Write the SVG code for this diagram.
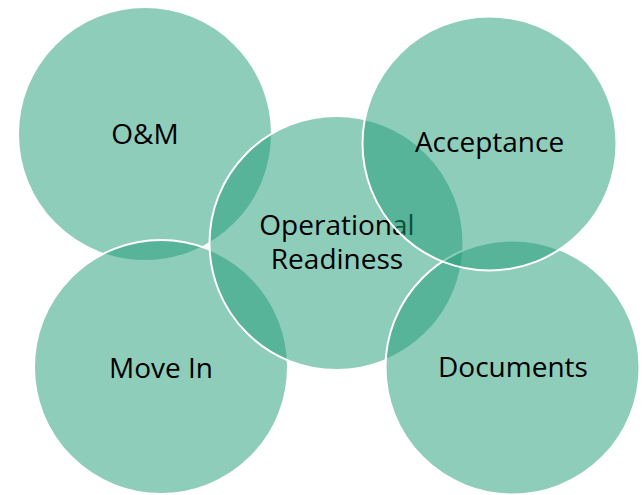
<svg xmlns="http://www.w3.org/2000/svg" width="644" height="495" viewBox="0 0 644 495">
  <style>
    .disc { fill: #1F9B77; fill-opacity: 0.5; stroke: #FFFFFF; stroke-width: 2; }
    .label { font-family: "Open Sans", "Noto Sans", "Liberation Sans", sans-serif; font-size: 28px; fill: #000000; text-anchor: middle; }
  </style>
  <rect width="644" height="495" fill="#FFFFFF"/>
  <g id="om">
    <circle class="disc" cx="145" cy="134" r="127"/>
    <text class="label" x="145" y="144">O&amp;M</text>
  </g>
  <g id="move-in">
    <circle class="disc" cx="161" cy="367" r="127"/>
    <text class="label" x="161" y="378">Move In</text>
  </g>
  <g id="operational-readiness">
    <circle class="disc" cx="336.5" cy="243" r="127"/>
    <text class="label" x="337" y="235">Operational</text>
    <text class="label" x="337" y="269">Readiness</text>
  </g>
  <g id="documents">
    <circle class="disc" cx="512.5" cy="367.5" r="127"/>
    <text class="label" x="513" y="377">Documents</text>
  </g>
  <g id="acceptance">
    <circle class="disc" cx="489.5" cy="143.5" r="127"/>
    <text class="label" x="489.5" y="152">Acceptance</text>
  </g>
  <g id="connectors"/>
</svg>
